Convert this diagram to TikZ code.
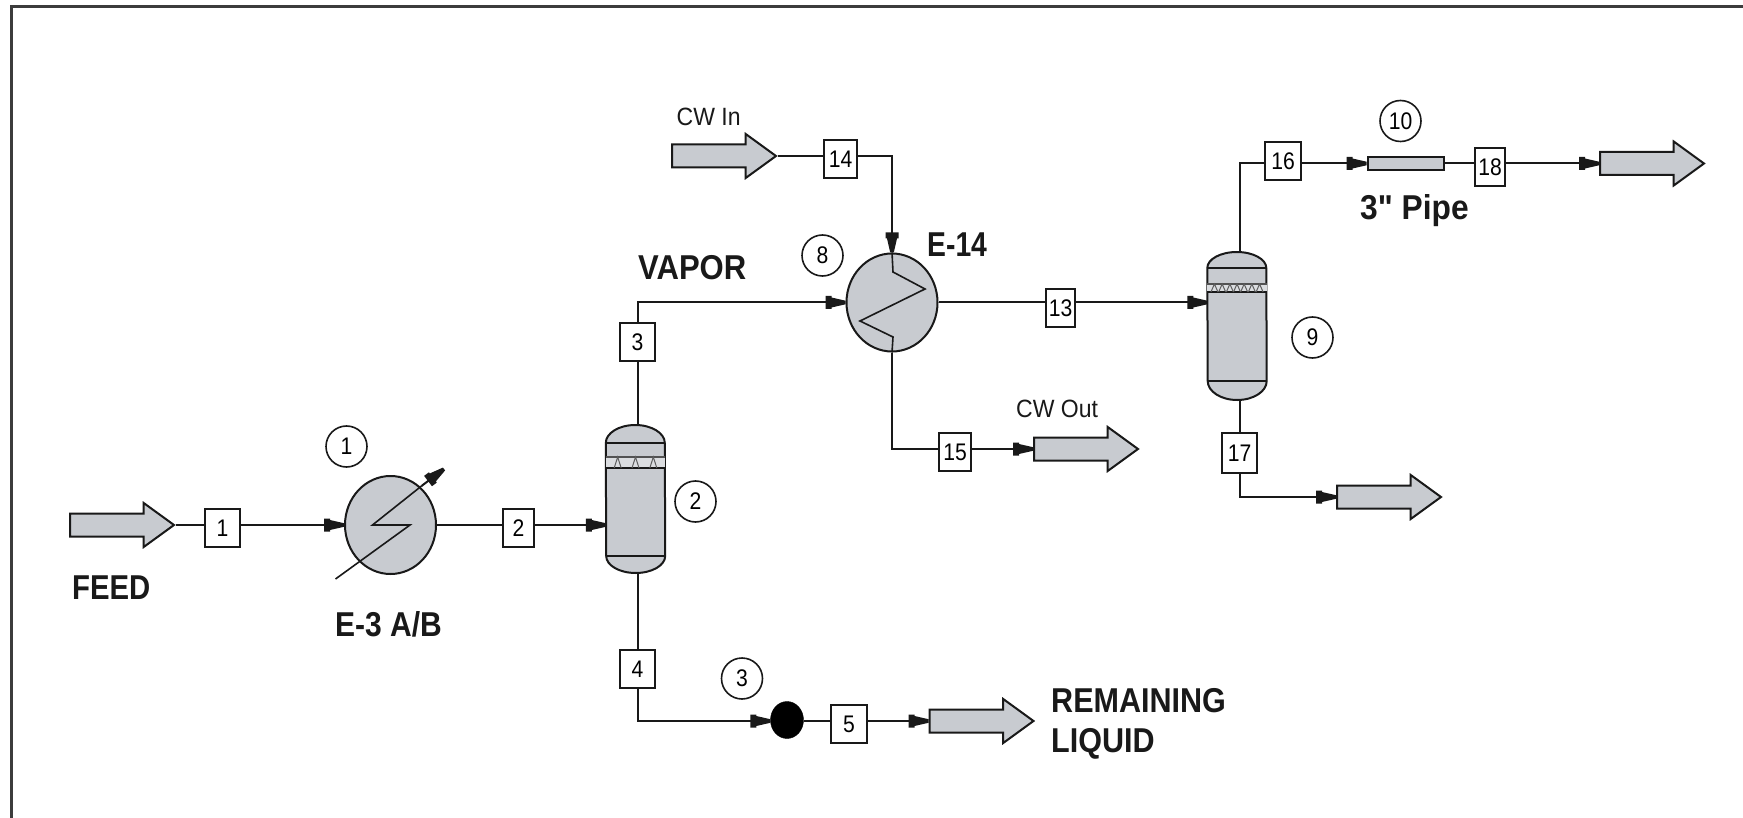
\documentclass[tikz,border=0pt]{standalone}
\usepackage{fontspec}
\setmainfont{Liberation Sans}
\newfontfamily\straightfont{Liberation Sans}
\usetikzlibrary{arrows.meta,shapes.arrows,shapes.geometric,calc}
\definecolor{eqgray}{RGB}{200,203,208}
\definecolor{ink}{RGB}{25,25,25}
\newcommand{\smalltxt}[1]{\fontsize{24}{24}\selectfont\scalebox{.88}[1]{#1}}
\newcommand{\cwtxt}[1]{\fontsize{25}{25}\selectfont\scalebox{.92}[1]{#1}}
\newcommand{\bigtxt}[2]{\fontsize{34.5}{35}\selectfont\bfseries\scalebox{#1}[1]{#2}}
\pgfdeclarearrow{
  name=FlowTip,
  setup code={
    \pgfarrowssettipend{0pt}
    \pgfarrowssetbackend{-20pt}
    \pgfarrowssetlineend{-18pt}
    \pgfarrowshullpoint{0pt}{1.8pt}
    \pgfarrowshullpoint{0pt}{-1.8pt}
    \pgfarrowshullpoint{-20pt}{6.5pt}
    \pgfarrowshullpoint{-20pt}{-6.5pt}
  },
  drawing code={
    \pgfsetstrokeopacity{0}
    \pgfpathmoveto{\pgfqpoint{-20pt}{6.5pt}}
    \pgfpathlineto{\pgfqpoint{-14pt}{6.5pt}}
    \pgfpathlineto{\pgfqpoint{-14pt}{5pt}}
    \pgfpathlineto{\pgfqpoint{0pt}{1.8pt}}
    \pgfpathlineto{\pgfqpoint{0pt}{-1.8pt}}
    \pgfpathlineto{\pgfqpoint{-14pt}{-5pt}}
    \pgfpathlineto{\pgfqpoint{-14pt}{-6.5pt}}
    \pgfpathlineto{\pgfqpoint{-20pt}{-6.5pt}}
    \pgfpathclose
    \pgfusepathqfill
  }
}
\tikzset{
  pipe/.style={draw=ink,line width=2pt},
  flow/.style={pipe,-{FlowTip}},
  stream/.style={rectangle,draw=ink,line width=2pt,fill=white,inner sep=0pt,minimum height=38pt},
  tag/.style={circle,draw=ink,line width=1.6pt,inner sep=0pt,minimum size=41pt},
  bigarrow/.style={single arrow,draw=ink,line width=2pt,fill=eqgray,inner xsep=0pt,inner ysep=10.5pt,
    single arrow head extend=10.5pt,single arrow tip angle=72,minimum height=104pt,anchor=tail},
  exch/.style={ellipse,draw=ink,line width=2pt,fill=eqgray,inner sep=0pt,minimum width=91pt,minimum height=98pt},
  lab/.style={inner sep=0pt,anchor=base west,text=ink},
  anchorbox/.style={rectangle,inner sep=0pt,minimum width=59pt,minimum height=148pt},
  vesselbody/.style={draw=ink,line width=2pt,fill=eqgray},
  vesselline/.style={draw=ink,line width=2pt},
}
% #1 node name, #2 y of head line, #3 band top, #4 band bottom, #5 y of lower line,
% #6 top head height, #7 bottom head height, #8 peak list along the band
\newcommand{\vessel}[8]{%
  \path[vesselbody] (#1.west |- 0,{#2}) arc[start angle=180,end angle=0,x radius=29.5pt,y radius=#6pt]
     -- (#1.east |- 0,{#5}) arc[start angle=0,end angle=-180,x radius=29.5pt,y radius=#7pt] -- cycle;
  \draw[vesselline] (#1.west |- 0,{#2}) -- (#1.east |- 0,{#2});
  \path[fill=white!35!eqgray] (#1.west |- 0,{#3}) rectangle (#1.east |- 0,{#4});
  \draw[draw=ink!75,line width=1.2pt] (#1.west |- 0,{#3}) -- (#1.east |- 0,{#3});
  \draw[vesselline] (#1.west |- 0,{#4}) -- (#1.east |- 0,{#4});
  \foreach \f in {#8}{
    \draw[draw=ink!70,line width=1pt] ($(#1.west |- 0,{#4})!\f!(#1.east |- 0,{#4})+(-3.5pt,0)$) -- ($(#1.west |- 0,{#3})!\f!(#1.east |- 0,{#3})$) -- ($(#1.west |- 0,{#4})!\f!(#1.east |- 0,{#4})+(3.5pt,0)$);
  }
  \draw[vesselline] (#1.west |- 0,{#5}) -- (#1.east |- 0,{#5});
}
\begin{document}
\begin{tikzpicture}[x=1pt,y=-1pt]
\useasboundingbox (0,0) rectangle (1743,818);
\fill[white] (0,0) rectangle (1743,818);
\draw[draw=ink!85,line width=3pt] (11,818) -- (11,6.5) -- (1743,6.5);

% equipment
\node[exch] (ex1) at (390.5,525) {};
\node[exch] (ex2) at (892,302.5) {};
\node[anchorbox] (v2) at (635.5,499) {};
\node[anchorbox] (v9) at (1237,326) {};
\vessel{v2}{443}{457}{468}{556}{18}{17}{.2,.5,.8}
\vessel{v9}{268}{284}{292}{381}{16}{19}{.12,.25,.38,.5,.62,.75,.88}
\node[ellipse,fill=black,draw=black,inner sep=0pt,minimum width=33pt,minimum height=37pt] (pump) at (787,720) {};
\node[rectangle,draw=ink,line width=2pt,fill=eqgray,inner sep=0pt,minimum width=76pt,minimum height=13pt] (pipe10) at (1405.5,163.5) {};

% big arrows
\node[bigarrow] (feed) at (69,525) {};
\node[bigarrow] (cwin) at (671,156) {};
\node[bigarrow] (cwout) at (1033,449) {};
\node[bigarrow] (out18) at (1599,163.5) {};
\node[bigarrow] (out17) at (1336,497) {};
\node[bigarrow] (outliq) at (928.5,721) {};

% stream boxes
\node[stream,minimum width=35pt] (s1) at (222.5,528) {\smalltxt{1}};
\node[stream,minimum width=31pt] (s2) at (518.5,528) {\smalltxt{2}};
\node[stream,minimum width=35pt] (s3) at (637.5,342) {\smalltxt{3}};
\node[stream,minimum width=35pt] (s4) at (637.5,669) {\smalltxt{4}};
\node[stream,minimum width=36pt] (s5) at (849,724) {\smalltxt{5}};
\node[stream,minimum width=29pt] (s13) at (1060.5,308) {\smalltxt{13}};
\node[stream,minimum width=33pt] (s14) at (840.5,159) {\smalltxt{14}};
\node[stream,minimum width=32pt] (s15) at (955,452) {\smalltxt{15}};
\node[stream,minimum width=36pt] (s16) at (1283,161.5) {\smalltxt{16}};
\node[stream,minimum width=35pt,minimum height=40pt] (s17) at (1239.5,453) {\smalltxt{17}};
\node[stream,minimum width=30.5pt] (s18) at (1490,167) {\smalltxt{18}};

% connectors
\draw[pipe] (feed.tip) -- (feed.tip -| s1.west);
\draw[flow] (feed.tip -| s1.east) -- (ex1.west);
\draw[pipe] (ex1.east) -- (ex1.east -| s2.west);
\draw[flow] (ex1.east -| s2.east) -- (v2.west |- ex1.east);
\draw[pipe] (s3 |- v2.north) -- (s3.south);
\draw[flow] (s3.north) |- (ex2.west);
\draw[pipe] (s4 |- v2.south) -- (s4.north);
\draw[flow] (s4.south) |- (pump.west |- outliq.tail);
\draw[pipe] (pump.east |- outliq.tail) -- (s5.west |- outliq.tail);
\draw[flow] (s5.east |- outliq.tail) -- (outliq.tail);
\draw[pipe] (cwin.tip) -- (cwin.tip -| s14.west);
\draw[flow] (cwin.tip -| s14.east) -| (ex2.north);
\draw[pipe] (ex2.east) -- (ex2.east -| s13.west);
\draw[flow] (ex2.east -| s13.east) -- (v9.west |- ex2.east);
\draw[pipe] (ex2.south) |- (s15.west |- cwout.tail);
\draw[flow] (s15.east |- cwout.tail) -- (cwout.tail);
\draw[pipe] (s17 |- v9.north) |- (s16.west |- pipe10.west);
\draw[flow] (s16.east |- pipe10.west) -- (pipe10.west);
\draw[pipe] (pipe10.east) -- (pipe10.east -| s18.west);
\draw[flow] (s18.east |- pipe10.east) -- (out18.tail);
\draw[pipe] (s17 |- v9.south) -- (s17.north);
\draw[flow] (s17.south) |- (out17.tail);

% exchanger internals
\coordinate (z1) at (410,525); \coordinate (z2) at (372.5,525);
\coordinate (d1) at (335.5,579); \coordinate (d2) at (421.5,486);
\draw[pipe,line width=1.6pt] (d1) -- (z1) -- (z2) -- (d2);
\coordinate (d3) at (444,469);
\draw[flow] (d2) -- (d3);
\coordinate (c1) at (893,272); \coordinate (c2) at (925,289);
\coordinate (c3) at (860,321); \coordinate (c4) at (893,337);
\draw[pipe,line width=1.6pt] (ex2.north) -- (c1) -- (c2) -- (c3) -- (c4) -- (ex2.south);

% reference tags
\node[tag] (t1) at (346.5,446.5) {\smalltxt{1}};
\node[tag] (t2) at (695.5,501.5) {\smalltxt{2}};
\node[tag] (t3) at (742,678.5) {\smalltxt{3}};
\node[tag] (t8) at (822.5,255.5) {\smalltxt{8}};
\node[tag] (t9) at (1312.5,337.5) {\smalltxt{9}};
\node[tag] (t10) at (1400.5,121) {\smalltxt{10}};

% labels
\node[lab] (lfeed) at (72,599) {\bigtxt{.85}{FEED}};
\node[lab] (le3) at (335,636) {\bigtxt{.87}{E-3 A/B}};
\node[lab] (lvap) at (638,280) {\bigtxt{.9}{VAPOR}};
\node[lab] (le14) at (927,257) {\bigtxt{.82}{E-14}};
\node[lab] (lrem) at (1051,712) {\bigtxt{.885}{REMAINING}};
\node[lab] (lliq) at (1051,752) {\bigtxt{.885}{LIQUID}};
\node[lab] (lpipe) at (1360,220) {\straightfont\bigtxt{.92}{3" Pipe}};
\node[lab] (lcwin) at (676.5,126) {\cwtxt{CW In}};
\node[lab] (lcwout) at (1016,417) {\cwtxt{CW Out}};
\end{tikzpicture}
\end{document}
